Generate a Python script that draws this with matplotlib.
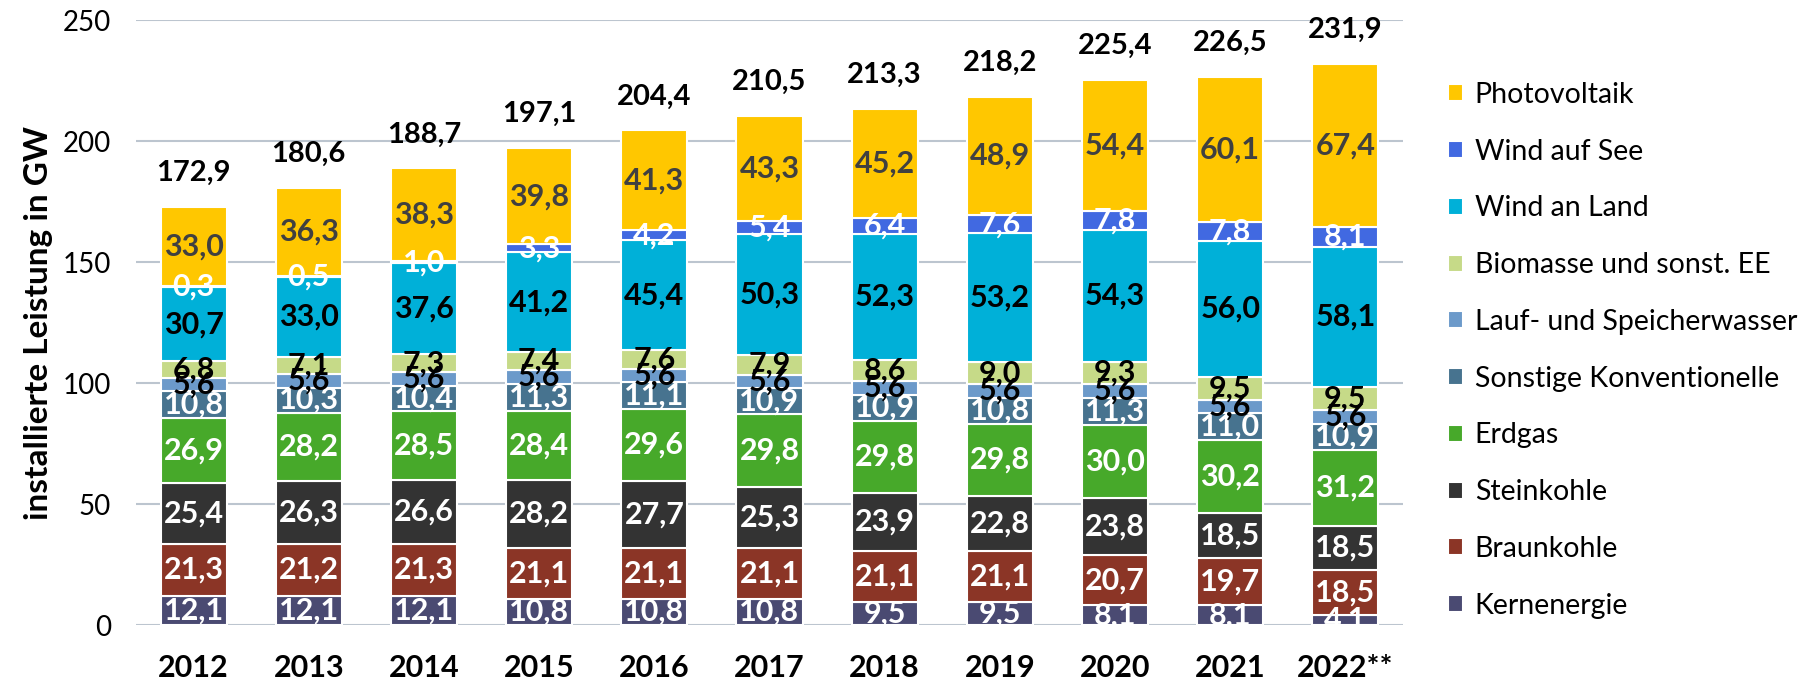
import matplotlib.pyplot as plt
import numpy as np

# installed capacity in GW, bottom to top of each stack
years = ['2012', '2013', '2014', '2015', '2016', '2017', '2018', '2019', '2020', '2021', '2022**']

kernenergie = [12.1, 12.1, 12.1, 10.8, 10.8, 10.8, 9.5, 9.5, 8.1, 8.1, 4.1]
braunkohle = [21.3, 21.2, 21.3, 21.1, 21.1, 21.1, 21.1, 21.1, 20.7, 19.7, 18.5]
steinkohle = [25.4, 26.3, 26.6, 28.2, 27.7, 25.3, 23.9, 22.8, 23.8, 18.5, 18.5]
erdgas = [26.9, 28.2, 28.5, 28.4, 29.6, 29.8, 29.8, 29.8, 30.0, 30.2, 31.2]
sonstige = [10.8, 10.3, 10.4, 11.3, 11.1, 10.9, 10.9, 10.8, 11.3, 11.0, 10.9]
wasser = [5.6, 5.6, 5.6, 5.6, 5.6, 5.6, 5.6, 5.6, 5.6, 5.6, 5.6]
biomasse = [6.8, 7.1, 7.3, 7.4, 7.6, 7.9, 8.6, 9.0, 9.3, 9.5, 9.5]
wind_land = [30.7, 33.0, 37.6, 41.2, 45.4, 50.3, 52.3, 53.2, 54.3, 56.0, 58.1]
wind_see = [0.3, 0.5, 1.0, 3.3, 4.2, 5.4, 6.4, 7.6, 7.8, 7.8, 8.1]
photovoltaik = [33.0, 36.3, 38.3, 39.8, 41.3, 43.3, 45.2, 48.9, 54.4, 60.1, 67.4]

totals = [172.9, 180.6, 188.7, 197.1, 204.4, 210.5, 213.3, 218.2, 225.4, 226.5, 231.9]

series = [
    ('Kernenergie', kernenergie, '#4a4a72', 'white'),
    ('Braunkohle', braunkohle, '#8b3526', 'white'),
    ('Steinkohle', steinkohle, '#333333', 'white'),
    ('Erdgas', erdgas, '#47a92a', 'white'),
    ('Sonstige Konventionelle', sonstige, '#47738f', 'white'),
    ('Lauf- und Speicherwasser', wasser, '#6c9aca', 'black'),
    ('Biomasse und sonst. EE', biomasse, '#c6da88', 'black'),
    ('Wind an Land', wind_land, '#00b0d8', 'black'),
    ('Wind auf See', wind_see, '#4169e1', 'white'),
    ('Photovoltaik', photovoltaik, '#ffc700', '#404040'),
]

plt.rcParams['font.family'] = ['Lato', 'DejaVu Sans']

def de(v):
    return f'{v:.1f}'.replace('.', ',')

fig = plt.figure(figsize=(18.07, 6.79), dpi=100)
ax = fig.add_axes([0.0753, 0.0795, 0.7011, 0.891])

x = np.arange(len(years))
bottom = np.zeros(len(years))
containers = []
for name, vals, color, tcolor in series:
    bars = ax.bar(x, vals, 0.575, bottom=bottom, color=color, label=name,
                  edgecolor='white', linewidth=1.5, zorder=3)
    labels = ax.bar_label(bars, labels=[de(v) for v in vals], label_type='center',
                          color=tcolor, fontsize=22, fontweight='bold', zorder=4)
    # labels of thin bottom segments are cut at the axis line
    for t in labels:
        t.set_clip_on(True)
    bottom += np.array(vals)
    containers.append(bars)

# totals above each stack
ax.bar_label(containers[-1], labels=[de(v) for v in totals], padding=15,
             fontsize=21, fontweight='bold', color='black')

ax.set_xlim(-0.5, len(years) - 0.5)
ax.set_ylim(0, 250)
ax.set_yticks([0, 50, 100, 150, 200, 250])
ax.set_xticks(x)
ax.set_xticklabels(years, fontsize=22, fontweight='bold')
ax.tick_params(axis='y', labelsize=20, length=0, pad=18)
ax.tick_params(axis='x', length=0, pad=21)
ax.yaxis.grid(True, color='#bcc5cf', linewidth=1.5, zorder=0)
ax.set_axisbelow(True)
for s in ax.spines.values():
    s.set_visible(False)

ax.set_ylabel('installierte Leistung in GW', fontsize=24, fontweight='bold', labelpad=7)

h, l = ax.get_legend_handles_labels()
ax.legend(h[::-1], l[::-1], loc='upper left', bbox_to_anchor=(1.015, 0.94), frameon=False,
          fontsize=20.5, handlelength=0.55, handleheight=0.55, handletextpad=0.4,
          labelspacing=1.08)

fig.savefig('out.png', dpi=100)
